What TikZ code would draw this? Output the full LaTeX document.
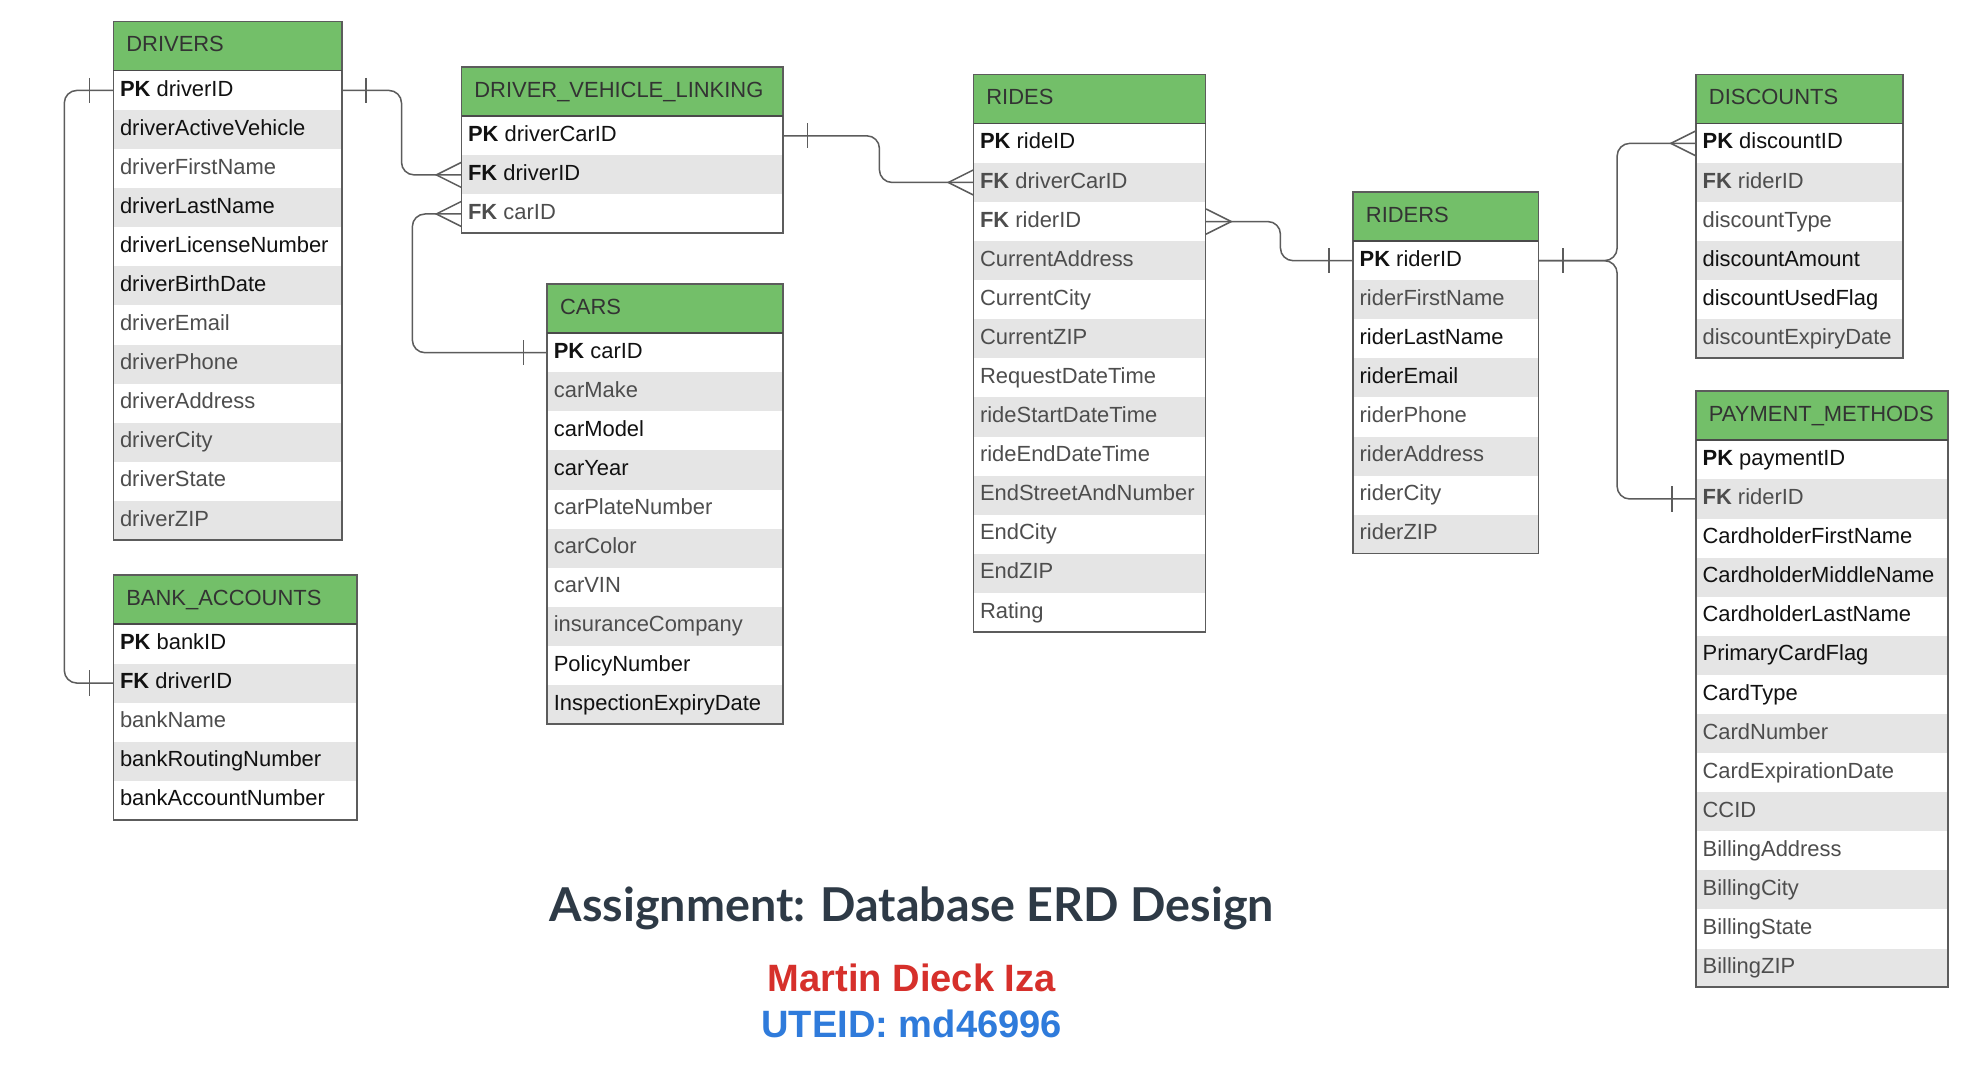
\documentclass[tikz,border=0pt]{standalone}
\usepackage{fontspec}
\setmainfont{Liberation Sans}
\newfontfamily\latofont{Lato}
\usetikzlibrary{calc}

\definecolor{hdgreen}{HTML}{73BF69}
\definecolor{rowgray}{HTML}{E5E5E5}
\definecolor{boxgray}{HTML}{5C5C5C}
\definecolor{txtdark}{HTML}{111111}
\definecolor{txtlight}{HTML}{4D4D4D}
\definecolor{hdtext}{HTML}{333333}
\definecolor{titleslate}{HTML}{2E3A46}
\definecolor{namered}{HTML}{D6302B}
\definecolor{idblue}{HTML}{2F7BDB}

\tikzset{
  headcell/.style={fill=hdgreen, draw=none, minimum height=39pt, inner sep=0pt},
  rowcell/.style={draw=none, minimum height=31pt, inner sep=0pt},
  fieldtext/.style={inner sep=0pt, text height=12.5pt, text depth=3.6pt, font=\fontsize{17.4}{20}\selectfont},
  headtext/.style={fieldtext, text=hdtext},
  fielddk/.style={fieldtext, text=txtdark},
  fieldlt/.style={fieldtext, text=txtlight},
  boxline/.style={draw=boxgray, line width=1.4pt},
  headline/.style={draw=boxgray!80!black, line width=1.4pt},
  relline/.style={draw=boxgray, line width=1.2pt},
}

\newcommand\pk{\textbf{PK}\space}
\newcommand\fk{\textbf{FK}\space}
% #1 name, #2 x, #3 y, #4 width, #5 rows, #6 title, #7 fields
\newcommand\erbox[7]{%
  \node[headcell, minimum width=#4pt, anchor=north west] (#1) at (#2,#3) {};
  \node[headtext, anchor=west] (#1-title) at ($(#1.west)+(10,0)$) {#6};
  \foreach \kind/\field [count=\i] in {#7} {
    \ifodd\i\relax\def\rowfill{white}\else\def\rowfill{rowgray}\fi
    \node[rowcell, fill=\rowfill, minimum width=#4pt, anchor=north west] (#1-\i) at (#2,#3+39+31*\i-31) {};
    \node[field\kind, anchor=west] (#1-\i-t) at ($(#1-\i.west)+(5,0)$) {\field};
  }
  \draw[boxline] (#2,#3) rectangle ++(#4,39+31*#5);
  \draw[headline] (#2,#3+39) -- ++(#4,0);
}
\def\crowfoot(#1)(#2){\draw[relline] ($(#1)+(0,-10)$) -- ($(#1)+(#2,0)$) -- ($(#1)+(0,10)$);}
\def\onebar(#1)(#2){\draw[relline] ($(#1)+(#2,-10)$) -- ($(#1)+(#2,10)$);}

\begin{document}
\begin{tikzpicture}[x=1pt, y=-1pt]
		%%%%% START %%%%%
		\fill[white] (0,0) rectangle (1567,850.2);
		\useasboundingbox (0,0) rectangle (1567,850.2);
		
		\erbox{drv}{90}{17}{181}{12}{DRIVERS}{dk/\pk driverID, dk/driverActiveVehicle, lt/driverFirstName, dk/driverLastName, dk/driverLicenseNumber, dk/driverBirthDate, lt/driverEmail, lt/driverPhone, lt/driverAddress, lt/driverCity, lt/driverState, lt/driverZIP}
		\erbox{ba}{90}{456}{193}{5}{BANK\_ACCOUNTS}{dk/\pk bankID, dk/\fk driverID, lt/bankName, dk/bankRoutingNumber, dk/bankAccountNumber}
		\erbox{dvl}{366}{53}{255}{3}{DRIVER\_VEHICLE\_LINKING}{dk/\pk driverCarID, dk/\fk driverID, lt/\fk carID}
		\erbox{cars}{434}{225}{187}{10}{CARS}{dk/\pk carID, lt/carMake, dk/carModel, dk/carYear, lt/carPlateNumber, lt/carColor, lt/carVIN, lt/insuranceCompany, dk/PolicyNumber, dk/InspectionExpiryDate}
		\erbox{rides}{772}{59}{184}{13}{RIDES}{dk/\pk rideID, lt/\fk driverCarID, lt/\fk riderID, lt/CurrentAddress, lt/CurrentCity, lt/CurrentZIP, lt/RequestDateTime, lt/rideStartDateTime, lt/rideEndDateTime, lt/EndStreetAndNumber, lt/EndCity, lt/EndZIP, lt/Rating}
		\erbox{riders}{1073}{152}{147}{8}{RIDERS}{dk/\pk riderID, lt/riderFirstName, dk/riderLastName, dk/riderEmail, lt/riderPhone, lt/riderAddress, lt/riderCity, lt/riderZIP}
		\erbox{disc}{1345}{59}{164}{6}{DISCOUNTS}{dk/\pk discountID, lt/\fk riderID, lt/discountType, dk/discountAmount, dk/discountUsedFlag, lt/discountExpiryDate}
		\erbox{pay}{1345}{310}{200}{14}{PAYMENT\_METHODS}{dk/\pk paymentID, lt/\fk riderID, dk/CardholderFirstName, dk/CardholderMiddleName, dk/CardholderLastName, dk/PrimaryCardFlag, dk/CardType, lt/CardNumber, lt/CardExpirationDate, lt/CCID, lt/BillingAddress, lt/BillingCity, lt/BillingState, lt/BillingZIP}
		
		\draw[relline, rounded corners=10pt] (drv-1.east) -- ++(47,0) |- (dvl-2.west);
		\onebar(drv-1.east)(19)
		\crowfoot(dvl-2.west)(-20)
		
		\draw[relline, rounded corners=10pt] (drv-1.west) -- ++(-39,0) |- (ba-2.west);
		\onebar(drv-1.west)(-19)
		\onebar(ba-2.west)(-19)
		
		\draw[relline, rounded corners=10pt] (dvl-3.west) -- ++(-39,0) |- (cars-1.west);
		\crowfoot(dvl-3.west)(-20)
		\onebar(cars-1.west)(-19)
		
		\draw[relline, rounded corners=10pt] (dvl-1.east) -- ++(76,0) |- (rides-2.west);
		\onebar(dvl-1.east)(19)
		\crowfoot(rides-2.west)(-20)
		
		\draw[relline, rounded corners=10pt] (rides-3.east) -- ++(59,0) |- (riders-1.west);
		\crowfoot(rides-3.east)(20)
		\onebar(riders-1.west)(-19)
		
		\draw[relline, rounded corners=10pt] (riders-1.east) -- ++(62,0) |- (disc-1.west);
		\draw[relline, rounded corners=10pt] (riders-1.east) -- ++(62,0) |- (pay-2.west);
		\onebar(riders-1.east)(19)
		\crowfoot(disc-1.west)(-20)
		\onebar(pay-2.west)(-19)
		
		\node[font=\latofont\bfseries\fontsize{37}{44}\selectfont, text=titleslate, anchor=base] (title) at (723,731) {Assignment: Database ERD Design};
		\node[font=\bfseries\fontsize{30.2}{35}\selectfont, text=namered, anchor=base] (author) at (723,786) {Martin Dieck Iza};
		\node[font=\bfseries\fontsize{30.2}{35}\selectfont, text=idblue, anchor=base] (uteid) at (723,823) {UTEID: md46996};
		%%%%% END %%%%%
	\end{tikzpicture}
\end{document}
